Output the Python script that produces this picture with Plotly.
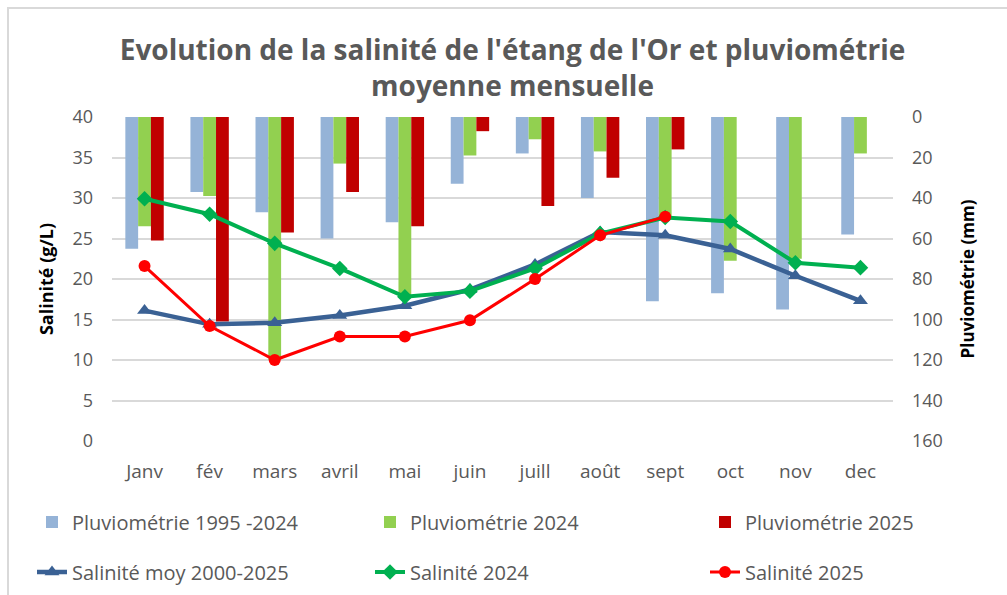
import plotly.graph_objects as go

months = ["Janv", "fév", "mars", "avril", "mai", "juin", "juill", "août", "sept", "oct", "nov", "dec"]

pluvio_1995_2024 = [65, 37, 47, 60, 52, 33, 18, 40, 91, 87, 95, 58]
pluvio_2024 = [54, 39, 120, 23, 89, 19, 11, 17, 49, 71, 70, 18]
pluvio_2025 = [61, 101, 57, 37, 54, 7, 44, 30, 16, None, None, None]

sal_moy = [16.1, 14.4, 14.6, 15.5, 16.7, 18.7, 21.8, 25.8, 25.4, 23.7, 20.4, 17.3]
sal_2024 = [29.9, 28.0, 24.4, 21.3, 17.8, 18.5, 21.3, 25.6, 27.6, 27.1, 22.0, 21.4]
sal_2025 = [21.6, 14.2, 10.0, 12.9, 12.9, 14.9, 20.0, 25.4, 27.7, None, None, None]

left_ticks = [0, 5, 10, 15, 20, 25, 30, 35, 40]
right_ticks = [0, 20, 40, 60, 80, 100, 120, 140, 160]

GRAY = "#595959"
FONT = "Open Sans"

W, H = 1007, 595
L, R, T, B = 112, 893, 117, 441
pw, ph = R - L, B - T


def px(x):
    return (x - L) / pw


def py(y):
    return (B - y) / ph


# legend slots: (legend id, left x of text, row center y)
legend_slots = [
    ("legend", 72, 522), ("legend2", 410, 522), ("legend3", 745, 522),
    ("legend4", 72, 572), ("legend5", 410, 572), ("legend6", 745, 572),
]

fig = go.Figure()
bar_specs = [
    ("Pluviométrie 1995 -2024", pluvio_1995_2024, "#95b3d7"),
    ("Pluviométrie 2024", pluvio_2024, "#92d050"),
    ("Pluviométrie 2025", pluvio_2025, "#c00000"),
]
for i, (name, vals, col) in enumerate(bar_specs):
    fig.add_trace(go.Bar(x=months, y=vals, name=name, marker=dict(color=col, line=dict(width=0)),
                         yaxis="y", legend=legend_slots[i][0], showlegend=True))

line_specs = [
    ("Salinité moy 2000-2025", sal_moy, "#3a6194", "triangle-up", 4.5, 13),
    ("Salinité 2024", sal_2024, "#00b050", "diamond", 4, 12),
    ("Salinité 2025", sal_2025, "#ff0000", "circle", 3, 12),
]
for i, (name, vals, col, sym, w, ms) in enumerate(line_specs):
    fig.add_trace(go.Scatter(x=months, y=vals, name=name, mode="lines+markers",
                             line=dict(color=col, width=w),
                             marker=dict(symbol=sym, size=ms, color=col),
                             yaxis="y2", legend=legend_slots[3 + i][0], showlegend=True))

legends = {}
for lid, tx, cy in legend_slots:
    legends[lid] = dict(visible=True, orientation="h", x=px(tx - 40), y=py(cy), xanchor="left",
                        yanchor="middle", font=dict(family=FONT, size=20, color=GRAY),
                        bgcolor="rgba(0,0,0,0)", borderwidth=0, itemwidth=30)

fig.update_layout(
    width=W, height=H, showlegend=True,
    margin=dict(l=L, r=W - R, t=T, b=H - B, autoexpand=False),
    paper_bgcolor="white", plot_bgcolor="white",
    font=dict(family=FONT, color=GRAY, size=18),
    barmode="group", bargap=0.41, bargroupgap=0,
    title=dict(text="<b>Evolution de la salinité de l'étang de l'Or et pluviométrie<br>moyenne mensuelle</b>",
               x=px(512.5), xref="paper", xanchor="center", y=1 - 60 / H, yanchor="top",
               font=dict(family=FONT, size=28, color=GRAY)),
    xaxis=dict(range=[-0.5, 11.5], showgrid=False, showline=False, ticks="", automargin=False,
               tickfont=dict(size=19, color=GRAY), ticklabelstandoff=17),
    yaxis=dict(side="right", range=[160, 0], tickvals=right_ticks, showgrid=True, automargin=False,
               gridcolor="#d9d9d9", gridwidth=1.5, zeroline=False, showline=False,
               tickfont=dict(size=18, color=GRAY), ticklabelstandoff=18,
               title=dict(text="<b>Pluviométrie (mm)</b>", font=dict(size=17, color="black"), standoff=20)),
    yaxis2=dict(side="left", overlaying="y", range=[0, 40], tickvals=left_ticks, showgrid=False,
                automargin=False, zeroline=False, showline=False,
                tickfont=dict(size=18, color=GRAY), ticklabelstandoff=18,
                title=dict(text="<b>Salinité (g/L)</b>", font=dict(size=18, color="black"), standoff=14)),
    shapes=[dict(type="rect", xref="paper", yref="paper", x0=px(8), x1=px(1015), y0=py(610), y1=py(8),
                 line=dict(color="#d9d9d9", width=2), fillcolor="rgba(0,0,0,0)", layer="below")],
    **legends,
)

fig.write_html("out.html", config={"displayModeBar": False},
               post_script="document.body.style.margin='0';")
